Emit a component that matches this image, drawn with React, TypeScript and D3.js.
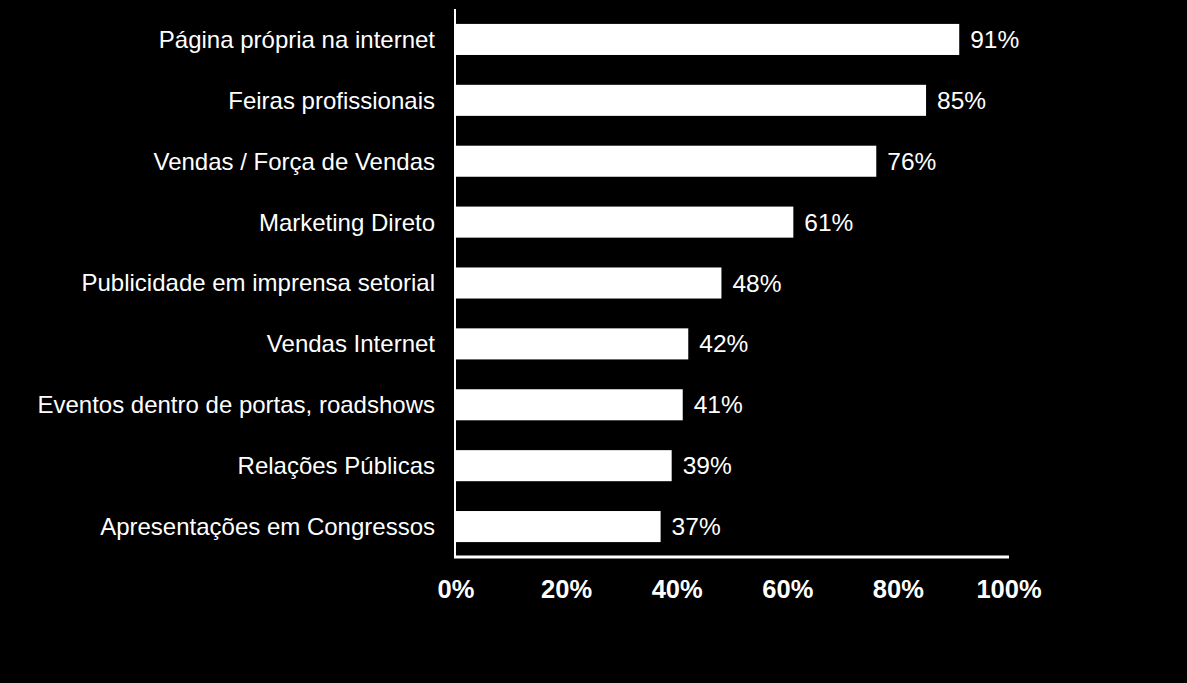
import React from "react";
import * as d3 from "d3";

const categories = [
  "Página própria na internet",
  "Feiras profissionais",
  "Vendas / Força de Vendas",
  "Marketing Direto",
  "Publicidade em imprensa setorial",
  "Vendas Internet",
  "Eventos dentro de portas, roadshows",
  "Relações Públicas",
  "Apresentações em Congressos",
];
const values = [91, 85, 76, 61, 48, 42, 41, 39, 37];
const tickValues = [0, 20, 40, 60, 80, 100];

const W = 1187;
const H = 683;
const left = 456;
const right = 1009;
const top = 9;
const bottom = 557;

export default function App() {
  const x = d3.scaleLinear().domain([0, 100]).range([left, right]);
  const y = d3
    .scaleBand<string>()
    .domain(categories)
    .range([top, bottom])
    .paddingInner(0.49)
    .paddingOuter(0.245);
  const font = "Arial, 'Liberation Sans', sans-serif";
  return (
    <div style={{ position: "fixed", inset: 0, background: "#000" }}>
      <svg width={W} height={H} style={{ display: "block", background: "#000" }}>
        {categories.map((c, i) => {
          const yy = y(c)!;
          const bw = y.bandwidth();
          return (
            <g key={c}>
              <rect x={x(0)} y={yy} width={x(values[i]) - x(0)} height={bw} fill="#fff" />
              <text
                x={left - 21}
                y={yy + bw / 2}
                dy="0.35em"
                textAnchor="end"
                fill="#fff"
                fontFamily={font}
                fontSize={24}
              >
                {c}
              </text>
              <text
                x={x(values[i]) + 11}
                y={yy + bw / 2}
                dy="0.35em"
                textAnchor="start"
                fill="#fff"
                fontFamily={font}
                fontSize={24.5}
              >
                {values[i]}%
              </text>
            </g>
          );
        })}
        <line x1={left - 1} x2={left - 1} y1={top} y2={bottom + 1} stroke="#fff" strokeWidth={2} />
        <line x1={left - 2} x2={right} y1={bottom} y2={bottom} stroke="#fff" strokeWidth={3} />
        {tickValues.map((t) => (
          <text
            key={t}
            x={x(t)}
            y={589}
            dy="0.35em"
            textAnchor="middle"
            fill="#fff"
            fontFamily={font}
            fontSize={25.5}
            fontWeight="bold"
          >
            {t}%
          </text>
        ))}
      </svg>
    </div>
  );
}
